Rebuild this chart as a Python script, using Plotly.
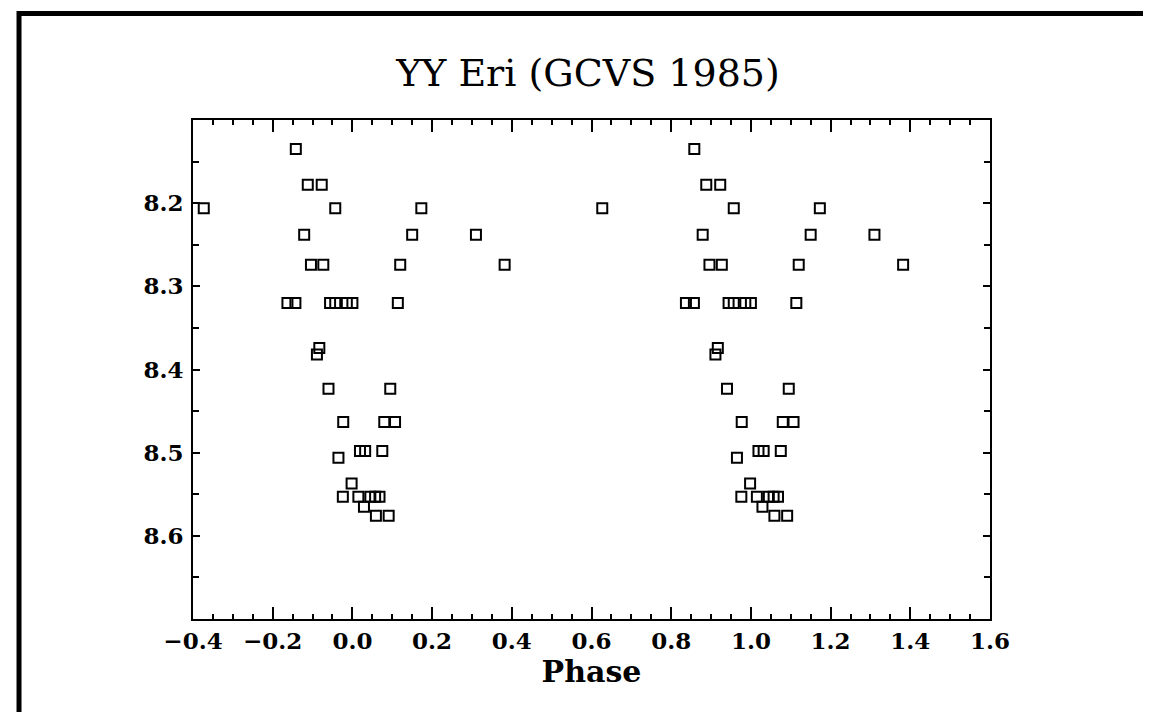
import plotly.graph_objects as go

# Phase (as plotted in the -0.4..0.6 window) and magnitude of each observation
phase = [-0.142, -0.112, -0.077, -0.373, -0.043, 0.173, -0.121, 0.150, 0.310,
         -0.104, -0.073, 0.120, 0.382, -0.163, -0.143, -0.056, -0.043, -0.014,
         0.000, 0.114, -0.083, -0.089, -0.060, 0.095, -0.023, 0.080, 0.107,
         -0.035, 0.019, 0.032, 0.075, -0.002, -0.024, 0.015, 0.045, 0.057,
         0.068, 0.029, 0.059, 0.091]
mag = [8.135, 8.178, 8.178, 8.206, 8.206, 8.206, 8.238, 8.238, 8.238,
       8.274, 8.274, 8.274, 8.274, 8.320, 8.320, 8.320, 8.320, 8.320,
       8.320, 8.320, 8.374, 8.382, 8.423, 8.423, 8.463, 8.463, 8.463,
       8.506, 8.498, 8.498, 8.498, 8.537, 8.553, 8.553, 8.553, 8.553,
       8.553, 8.565, 8.576, 8.576]

x_ticks = [-0.4, -0.2, 0.0, 0.2, 0.4, 0.6, 0.8, 1.0, 1.2, 1.4, 1.6]
y_ticks = [8.2, 8.3, 8.4, 8.5, 8.6]
x_range = [-0.4, 1.6]
y_range = [8.7, 8.1]

# phase-folded display: every observation shown in two consecutive cycles
xs, ys = [], []
for shift in (0.0, 1.0):
    for p, m in zip(phase, mag):
        q = p + shift
        if x_range[0] <= q <= x_range[1]:
            xs.append(q)
            ys.append(m)

fig = go.Figure()
fig.add_trace(go.Scatter(
    x=xs, y=ys, mode="markers",
    marker=dict(symbol="square-open", size=10, color="black",
                line=dict(width=2, color="black")),
    showlegend=False, cliponaxis=False,
))

tickfont = dict(family="DejaVu Serif", size=23, color="black", weight="bold")

fig.update_layout(
    width=1151, height=712,
    margin=dict(l=185, r=169, t=112, b=101),
    paper_bgcolor="white", plot_bgcolor="white",
    title=dict(text="YY Eri (GCVS 1985)", xref="paper", yref="container",
               x=0.4956, xanchor="center", y=0.9087, yanchor="middle",
               font=dict(family="DejaVu Serif", size=38, color="black")),
    xaxis=dict(range=x_range, tickvals=x_ticks,
               ticktext=[f"{v:.1f}".replace("-", "\u2212") for v in x_ticks],
               ticks="inside", ticklen=12, tickwidth=2, tickcolor="black",
               minor=dict(dtick=0.05, tick0=0, ticks="inside", ticklen=5,
                          tickwidth=1.5, tickcolor="black", showgrid=False),
               showline=True, linewidth=2, linecolor="black", mirror="ticks",
               showgrid=False, zeroline=False, tickfont=tickfont,
               title=dict(text="Phase", standoff=2,
                          font=dict(family="DejaVu Serif", size=30,
                                    color="black", weight="bold"))),
    yaxis=dict(range=y_range, tickvals=y_ticks,
               ticktext=[f"{v:.1f}" for v in y_ticks],
               ticks="inside", ticklen=7, tickwidth=2, tickcolor="black",
               minor=dict(dtick=0.05, tick0=8.0, ticks="inside", ticklen=6,
                          tickwidth=1.5, tickcolor="black", showgrid=False),
               showline=True, linewidth=2, linecolor="black", mirror="ticks",
               showgrid=False, zeroline=False, tickfont=tickfont,
               ticklabelstandoff=3),
    shapes=[dict(type="rect", xref="paper", yref="paper",
                 x0=-0.2183, x1=1.2095, y0=-0.35, y1=1.2134,
                 line=dict(color="black", width=5), fillcolor="rgba(0,0,0,0)",
                 layer="below")],
)

fig.write_html("out.html")
